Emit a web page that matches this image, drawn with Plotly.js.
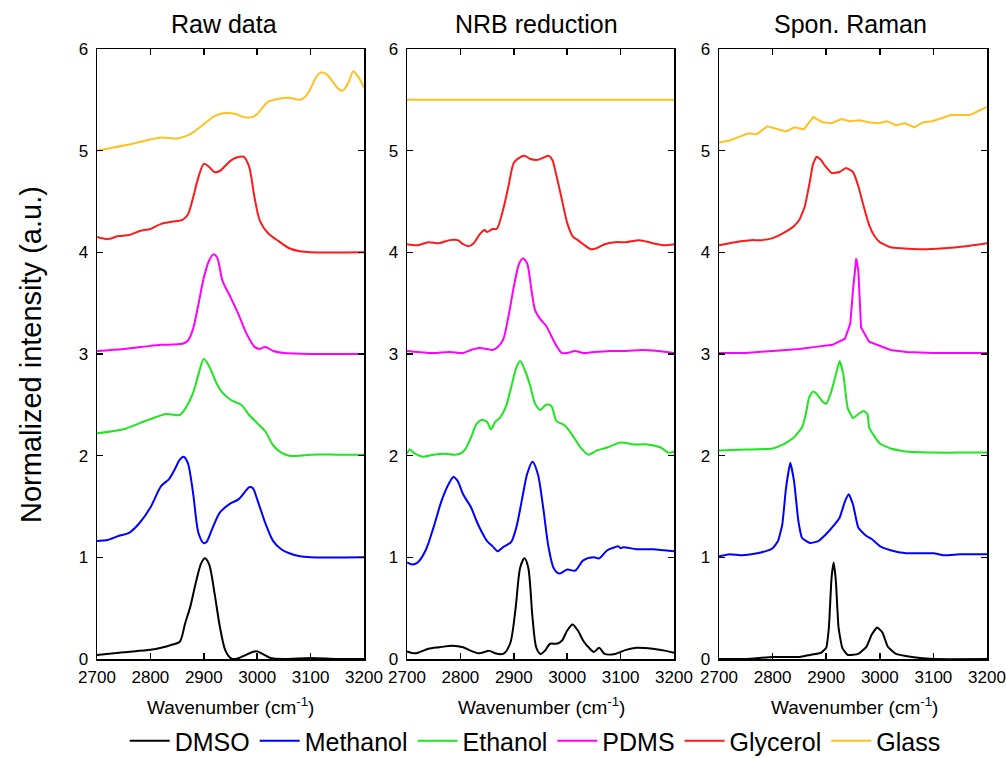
<!DOCTYPE html>
<html>
<head>
<meta charset="utf-8">
<script src="https://cdn.plot.ly/plotly-3.0.1.min.js"></script>
<style>html,body{margin:0;padding:0;background:#fff;}#chart{width:1006px;height:758px;}</style>
</head>
<body>
<div id="chart"></div>
<script>
// ---------- Data ----------
const seriesNames = ["DMSO", "Methanol", "Ethanol", "PDMS", "Glycerol", "Glass"];
const seriesColors = ["#000000", "#0000ff", "#1ee61e", "#ff00ff", "#ff1a1a", "#ffc020"];
const panelTitles = ["Raw data", "NRB reduction", "Spon. Raman"];
const xTickVals = [2700, 2800, 2900, 3000, 3100, 3200];
const yTickVals = [0, 1, 2, 3, 4, 5, 6];

// Panel 1: Raw data
const rawDmsoX = [2700,2750,2800,2820,2840,2855,2865,2875,2885,2895,2902,2910,2920,2930,2940,2950,2960,2975,2990,3000,3010,3025,3050,3100,3150,3200];
const rawDmsoY = [0.04,0.066,0.09,0.11,0.14,0.17,0.35,0.52,0.75,0.94,0.99,0.93,0.65,0.32,0.09,0.01,0.0,0.03,0.066,0.075,0.05,0.01,0.0,0.01,0.0,0.0];
const rawMetX = [2700,2720,2740,2760,2780,2800,2820,2835,2845,2855,2862,2870,2880,2890,2900,2905,2915,2930,2950,2965,2975,2985,2992,3000,3015,3030,3045,3060,3080,3100,3200];
const rawMetY = [1.16,1.17,1.21,1.24,1.34,1.49,1.70,1.77,1.86,1.96,1.99,1.93,1.63,1.24,1.14,1.15,1.27,1.44,1.53,1.57,1.63,1.69,1.68,1.57,1.34,1.16,1.08,1.04,1.01,1.00,1.00];
const rawEthX = [2700,2750,2780,2800,2830,2845,2855,2865,2880,2890,2900,2910,2925,2935,2950,2970,2985,3000,3015,3030,3045,3060,3080,3100,3150,3200];
const rawEthY = [2.22,2.26,2.32,2.36,2.41,2.40,2.40,2.46,2.62,2.80,2.95,2.88,2.70,2.62,2.55,2.50,2.40,2.32,2.24,2.10,2.03,2.00,2.00,2.01,2.01,2.01];
const rawPdmsX = [2700,2750,2800,2820,2860,2870,2880,2890,2900,2910,2918,2925,2935,2950,2965,2980,2995,3005,3015,3030,3050,3100,3200];
const rawPdmsY = [3.03,3.05,3.08,3.09,3.10,3.13,3.25,3.49,3.75,3.92,3.98,3.95,3.72,3.56,3.39,3.20,3.07,3.05,3.07,3.03,3.01,3.00,3.00];
const rawGlyX = [2700,2720,2740,2760,2780,2800,2820,2840,2860,2870,2880,2890,2900,2910,2920,2930,2940,2950,2960,2975,2985,2995,3005,3020,3040,3060,3080,3100,3200];
const rawGlyY = [4.15,4.13,4.16,4.17,4.21,4.23,4.28,4.30,4.32,4.37,4.54,4.74,4.87,4.84,4.79,4.80,4.85,4.90,4.93,4.94,4.84,4.54,4.31,4.19,4.11,4.04,4.01,4.00,4.00];
const rawGlassX = [2700,2750,2800,2820,2850,2870,2880,2900,2920,2940,2960,2975,2990,3000,3020,3040,3060,3080,3090,3100,3110,3120,3130,3140,3150,3160,3170,3180,3190,3200];
const rawGlassY = [5.00,5.05,5.11,5.13,5.12,5.15,5.18,5.26,5.34,5.37,5.36,5.33,5.33,5.36,5.48,5.51,5.52,5.50,5.53,5.61,5.72,5.77,5.75,5.69,5.62,5.59,5.66,5.78,5.72,5.62];

// Panel 2: NRB reduction
const nrbDmsoX = [2700,2715,2740,2760,2785,2805,2820,2835,2855,2865,2880,2893,2903,2912,2920,2927,2935,2942,2950,2958,2968,2980,2990,3000,3010,3020,3030,3040,3050,3060,3070,3090,3110,3130,3160,3185,3200];
const nrbDmsoY = [0.075,0.056,0.10,0.115,0.13,0.115,0.08,0.056,0.08,0.056,0.05,0.15,0.48,0.90,0.99,0.90,0.41,0.115,0.05,0.08,0.15,0.15,0.18,0.28,0.34,0.28,0.18,0.115,0.07,0.11,0.05,0.05,0.09,0.11,0.10,0.08,0.06];
const nrbMetX = [2700,2710,2720,2735,2750,2765,2780,2787,2795,2805,2820,2830,2840,2850,2860,2870,2880,2895,2905,2915,2925,2935,2945,2955,2965,2975,2985,3000,3015,3030,3050,3060,3075,3090,3095,3100,3105,3130,3160,3200];
const nrbMetY = [0.95,0.93,0.95,1.07,1.30,1.56,1.74,1.79,1.75,1.62,1.49,1.36,1.25,1.16,1.11,1.06,1.10,1.15,1.30,1.56,1.82,1.94,1.82,1.49,1.10,0.89,0.84,0.88,0.87,0.97,1.00,0.99,1.07,1.10,1.11,1.09,1.10,1.08,1.08,1.06];
const nrbEthX = [2700,2705,2715,2730,2750,2770,2790,2800,2810,2820,2830,2840,2850,2857,2865,2875,2885,2895,2905,2912,2920,2930,2940,2950,2960,2970,2980,2995,3010,3025,3040,3055,3075,3100,3125,3150,3175,3190,3200];
const nrbEthY = [2.02,2.06,2.02,1.99,2.01,2.02,2.01,2.02,2.07,2.18,2.31,2.35,2.33,2.26,2.33,2.38,2.48,2.67,2.87,2.93,2.85,2.70,2.51,2.45,2.50,2.49,2.34,2.30,2.20,2.08,2.01,2.05,2.08,2.13,2.11,2.11,2.08,2.03,2.04];
const nrbPdmsX = [2700,2720,2750,2780,2805,2820,2835,2850,2860,2870,2880,2890,2900,2910,2917,2925,2933,2940,2950,2960,2970,2980,2990,3000,3015,3030,3050,3080,3110,3140,3170,3200];
const nrbPdmsY = [3.03,3.02,3.01,3.02,3.01,3.04,3.06,3.05,3.04,3.07,3.14,3.37,3.66,3.89,3.94,3.89,3.63,3.43,3.34,3.28,3.18,3.08,3.01,3.01,3.03,3.01,3.02,3.03,3.03,3.04,3.03,3.01];
const nrbGlyX = [2700,2720,2740,2760,2780,2795,2805,2815,2825,2835,2845,2850,2860,2868,2880,2890,2900,2910,2920,2930,2945,2955,2965,2972,2980,2990,3000,3010,3020,3030,3045,3055,3070,3090,3110,3135,3160,3180,3200];
const nrbGlyY = [4.08,4.07,4.10,4.09,4.12,4.12,4.08,4.06,4.09,4.17,4.22,4.20,4.23,4.23,4.42,4.65,4.88,4.93,4.95,4.92,4.91,4.93,4.95,4.91,4.75,4.52,4.29,4.16,4.12,4.08,4.03,4.04,4.08,4.10,4.10,4.12,4.09,4.07,4.08];
const nrbGlassX = [2700,3200];
const nrbGlassY = [5.5,5.5];

// Panel 3: Spontaneous Raman
const spDmsoX = [2700,2750,2800,2850,2870,2890,2900,2905,2910,2914,2918,2923,2930,2940,2960,2975,2985,2995,3005,3015,3030,3060,3100,3200];
const spDmsoY = [0,0,0.02,0.02,0.04,0.06,0.11,0.31,0.80,0.95,0.77,0.31,0.11,0.04,0.05,0.12,0.24,0.31,0.26,0.12,0.05,0.02,0,0];
const spMetX = [2700,2720,2740,2760,2780,2800,2810,2818,2825,2833,2840,2848,2855,2870,2885,2900,2915,2925,2935,2942,2950,2960,2975,2985,3000,3020,3050,3100,3120,3150,3200];
const spMetY = [1.01,1.03,1.02,1.03,1.05,1.09,1.16,1.32,1.68,1.93,1.75,1.36,1.19,1.14,1.16,1.23,1.32,1.39,1.55,1.62,1.52,1.29,1.21,1.18,1.11,1.07,1.04,1.04,1.02,1.03,1.03];
const spEthX = [2700,2750,2800,2820,2840,2855,2862,2868,2875,2882,2892,2900,2910,2918,2925,2932,2940,2950,2960,2970,2977,2980,2990,3000,3020,3050,3100,3150,3200];
const spEthY = [2.05,2.06,2.07,2.11,2.18,2.28,2.41,2.57,2.63,2.61,2.54,2.51,2.64,2.80,2.93,2.80,2.47,2.37,2.41,2.44,2.41,2.28,2.19,2.12,2.07,2.04,2.03,2.03,2.03];
const spPdmsX = [2700,2750,2800,2850,2880,2900,2912,2935,2945,2950,2956,2960,2965,2980,3000,3020,3050,3100,3200];
const spPdmsY = [3.01,3.01,3.03,3.05,3.07,3.08,3.09,3.15,3.30,3.63,3.94,3.82,3.26,3.12,3.08,3.04,3.02,3.01,3.01];
const spGlyX = [2700,2720,2740,2760,2780,2800,2820,2840,2850,2860,2870,2875,2882,2890,2898,2910,2925,2937,2950,2960,2970,2980,2990,3000,3020,3040,3080,3120,3160,3200];
const spGlyY = [4.07,4.09,4.11,4.12,4.12,4.14,4.19,4.26,4.32,4.45,4.71,4.86,4.94,4.91,4.85,4.78,4.79,4.83,4.79,4.65,4.45,4.27,4.16,4.10,4.05,4.04,4.03,4.04,4.06,4.09];
const spGlassX = [2700,2720,2740,2755,2770,2790,2825,2841,2858,2876,2893,2910,2928,2944,2962,2979,2997,3013,3030,3047,3064,3081,3098,3116,3133,3150,3168,3184,3200];
const spGlassY = [5.08,5.10,5.14,5.17,5.16,5.24,5.19,5.23,5.21,5.33,5.28,5.27,5.31,5.29,5.30,5.28,5.27,5.29,5.25,5.27,5.23,5.28,5.29,5.32,5.35,5.35,5.35,5.39,5.43];

const panels = [
  [[rawDmsoX,rawDmsoY],[rawMetX,rawMetY],[rawEthX,rawEthY],[rawPdmsX,rawPdmsY],[rawGlyX,rawGlyY],[rawGlassX,rawGlassY]],
  [[nrbDmsoX,nrbDmsoY],[nrbMetX,nrbMetY],[nrbEthX,nrbEthY],[nrbPdmsX,nrbPdmsY],[nrbGlyX,nrbGlyY],[nrbGlassX,nrbGlassY]],
  [[spDmsoX,spDmsoY],[spMetX,spMetY],[spEthX,spEthY],[spPdmsX,spPdmsY],[spGlyX,spGlyY],[spGlassX,spGlassY]]
];

// ---------- Build figure ----------
const W = 1006, H = 758;
const FONT = "Liberation Sans, Arial, sans-serif";
const xDomPx = [[97, 364], [407, 674], [719, 987]];
const yDomPx = [49, 659];
const yDom = [1 - yDomPx[1] / H, 1 - yDomPx[0] / H];

const traces = [];
panels.forEach((panel, p) => {
  const ax = p === 0 ? "" : String(p + 1);
  panel.forEach((s, i) => {
    const linear = (p === 2 && (i === 5 || i === 3));
    traces.push({
      type: "scatter", mode: "lines",
      x: s[0], y: s[1],
      xaxis: "x" + ax, yaxis: "y" + ax,
      name: seriesNames[i], legendgroup: seriesNames[i],
      showlegend: p === 0,
      line: {color: seriesColors[i], width: 2, shape: linear ? "linear" : "spline", smoothing: p === 2 ? 0.4 : 0.8},
      hoverinfo: "skip"
    });
  });
});

const layout = {
  width: W, height: H,
  margin: {l: 0, r: 0, t: 0, b: 0, autoexpand: false},
  paper_bgcolor: "#fff", plot_bgcolor: "#fff",
  font: {family: FONT, color: "#000"},
  showlegend: true,
  legend: {
    orientation: "h", x: 0.532, xanchor: "center", y: 1 - 741 / H, yanchor: "middle",
    font: {family: "Liberation Sans Narrow, Arial Narrow, Liberation Sans, sans-serif", size: 25, color: "#000"},
    itemwidth: 40, tracegroupgap: 0, bgcolor: "rgba(0,0,0,0)"
  },
  annotations: []
};

xDomPx.forEach((d, p) => {
  const ax = p === 0 ? "" : String(p + 1);
  layout["xaxis" + ax] = {
    domain: [d[0] / W, d[1] / W], anchor: "y" + ax,
    range: [2700, 3200], tickvals: xTickVals, ticktext: xTickVals.map(String),
    showline: true, linecolor: "#000", linewidth: 1.5, mirror: "ticks",
    ticks: "inside", ticklen: 6, tickwidth: 1.5, tickcolor: "#000",
    showgrid: false, zeroline: false, ticklabelstandoff: 2,
    tickfont: {family: FONT, size: 17, color: "#000"}
  };
  layout["yaxis" + ax] = {
    domain: yDom, anchor: "x" + ax,
    range: [0, 6], tickvals: yTickVals, ticktext: yTickVals.map(String),
    showline: true, linecolor: "#000", linewidth: 1.5, mirror: "ticks",
    ticks: "inside", ticklen: 6, tickwidth: 1.5, tickcolor: "#000",
    showgrid: false, zeroline: false, ticklabelstandoff: 4,
    tickfont: {family: FONT, size: 17, color: "#000"}
  };
  const titleCx = [224, 536, 850][p];
  layout.annotations.push({
    text: panelTitles[p], xref: "paper", yref: "paper",
    x: titleCx / W, y: 1 - 24 / H, xanchor: "center", yanchor: "middle",
    showarrow: false, font: {family: FONT, size: 25, color: "#000"}
  });
  const xtCx = [230, 541, 854][p];
  layout.annotations.push({
    text: "Wavenumber (cm<sup>-1</sup>)", xref: "paper", yref: "paper",
    x: xtCx / W, y: 1 - 706 / H, xanchor: "center", yanchor: "middle",
    showarrow: false, font: {family: FONT, size: 19, color: "#000"}
  });
});

layout.annotations.push({
  text: "Normalized intensity (a.u.)", xref: "paper", yref: "paper",
  x: 31 / W, y: 1 - 355 / H, xanchor: "center", yanchor: "middle", textangle: -90,
  showarrow: false, font: {family: FONT, size: 29, color: "#000"}
});

Plotly.newPlot("chart", traces, layout, {staticPlot: true, displayModeBar: false});
</script>
</body>
</html>
